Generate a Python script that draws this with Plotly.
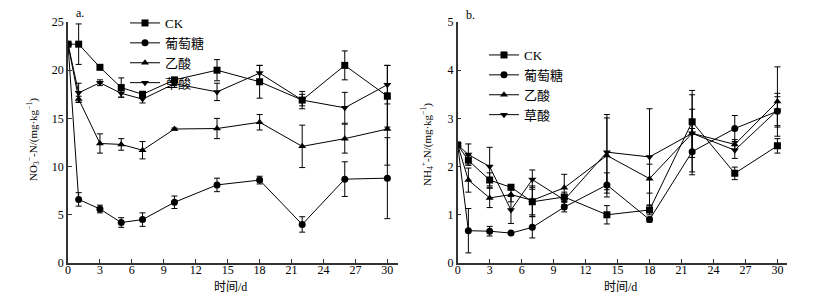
import plotly.graph_objects as go

days = [0, 1, 3, 5, 7, 10, 14, 18, 22, 26, 30]
series_names = ["CK", "葡萄糖", "乙酸", "草酸"]
symbols = ["square", "circle", "triangle-up", "triangle-down"]

# Panel a: NO3- -N
no3_ck = [22.7, 22.7, 20.3, 18.2, 17.5, 19.0, 20.0, 18.8, 16.9, 20.5, 17.3]
no3_ck_err = [0, 2.1, 0.2, 1.0, 0.3, 0.2, 1.1, 1.7, 0.9, 1.5, 3.2]
no3_glu = [22.7, 6.6, 5.6, 4.2, 4.5, 6.3, 8.1, 8.6, 4.0, 8.7, 8.8]
no3_glu_err = [0, 0.7, 0.4, 0.5, 0.7, 0.65, 0.7, 0.4, 0.8, 1.8, 4.2]
no3_ace = [22.7, 17.0, 12.4, 12.3, 11.7, 13.9, 13.95, 14.6, 12.1, 12.9, 13.9]
no3_ace_err = [0, 0.3, 1.0, 0.6, 0.9, 0.1, 1.05, 0.8, 2.2, 1.5, 3.75]
no3_oxa = [22.7, 17.65, 18.7, 17.6, 17.0, 18.6, 17.75, 19.7, 16.9, 16.1, 18.5]
no3_oxa_err = [0, 1.0, 0.3, 0.4, 0.4, 0.2, 0.9, 0.8, 0.6, 1.6, 2.0]

# Panel b: NH4+ -N
nh4_ck = [2.45, 2.13, 1.72, 1.57, 1.27, 1.37, 1.0, 1.1, 2.93, 1.86, 2.43]
nh4_ck_err = [0.05, 0.1, 0.15, 0.05, 0.3, 0.1, 0.19, 0.1, 0.65, 0.13, 0.15]
nh4_glu = [2.45, 0.67, 0.66, 0.62, 0.74, 1.16, 1.62, 0.9, 2.31, 2.79, 3.15]
nh4_glu_err = [0.05, 0.46, 0.1, 0.03, 0.22, 0.1, 0.25, 0.05, 0.48, 0.27, 0.3]
nh4_ace = [2.45, 1.72, 1.35, 1.42, 1.3, 1.56, 2.23, 1.75, 2.69, 2.46, 3.35]
nh4_ace_err = [0.05, 0.25, 0.2, 0.15, 0.3, 0.28, 0.78, 0.3, 0.5, 0.1, 0.72]
nh4_oxa = [2.45, 2.25, 2.0, 1.1, 1.73, 1.31, 2.3, 2.2, 2.69, 2.34, 3.17]
nh4_oxa_err = [0.05, 0.22, 0.4, 0.28, 0.2, 0.1, 0.78, 1.0, 0.8, 0.17, 0.35]

x_ticks = [0, 3, 6, 9, 12, 15, 18, 21, 24, 27, 30]
y_ticks_a = [0, 5, 10, 15, 20, 25]
y_ticks_b = [0, 1, 2, 3, 4, 5]

SERIF = '"Liberation Serif", "Times New Roman", serif'
CJK = '"Liberation Serif", "Noto Sans CJK SC", serif'

fig = go.Figure()

panel_a = [(no3_ck, no3_ck_err), (no3_glu, no3_glu_err), (no3_ace, no3_ace_err), (no3_oxa, no3_oxa_err)]
panel_b = [(nh4_ck, nh4_ck_err), (nh4_glu, nh4_glu_err), (nh4_ace, nh4_ace_err), (nh4_oxa, nh4_oxa_err)]

for i, (vals, errs) in enumerate(panel_a):
    fig.add_trace(go.Scatter(
        x=days, y=vals, name=series_names[i], mode="lines+markers",
        line=dict(color="black", width=1),
        marker=dict(symbol=symbols[i], size=7, color="black"),
        error_y=dict(type="data", array=errs, color="black", thickness=1, width=3),
        xaxis="x", yaxis="y", legend="legend",
    ))

for i, (vals, errs) in enumerate(panel_b):
    fig.add_trace(go.Scatter(
        x=days, y=vals, name=series_names[i], mode="lines+markers",
        line=dict(color="black", width=1),
        marker=dict(symbol=symbols[i], size=7, color="black"),
        error_y=dict(type="data", array=errs, color="black", thickness=1, width=3),
        xaxis="x2", yaxis="y2", legend="legend2",
    ))

# The page is drawn inside an 8px body margin.
W, H = 829, 300
OX, OY = 8, 8


def px(x):
    return (x - OX) / W


def py(y):
    return 1 - (y - OY) / H


y_dom = [py(263), py(22)]

axis_common = dict(
    showline=True, linecolor="#333", linewidth=1.5, mirror=False,
    ticks="inside", ticklen=4, tickwidth=1, tickcolor="#333",
    showgrid=False, zeroline=False, automargin=False,
    tickfont=dict(family=SERIF, size=12, color="black"),
)


def label(text, x, y, font, angle=0):
    return dict(text=text, x=px(x), y=py(y), xref="paper", yref="paper",
                xanchor="center", yanchor="middle", showarrow=False,
                textangle=angle, font=font)


fig.update_layout(
    template="none",
    width=W, height=H,
    margin=dict(l=0, r=0, t=0, b=0, autoexpand=False),
    paper_bgcolor="white", plot_bgcolor="white",
    font=dict(family=CJK, color="black"),
    xaxis=dict(domain=[px(68), px(398)], range=[0, 31], tickvals=x_ticks,
               anchor="y", ticklabelstandoff=-5, **axis_common),
    yaxis=dict(domain=y_dom, range=[0, 25], tickvals=y_ticks_a,
               anchor="x", **axis_common),
    xaxis2=dict(domain=[px(457.7), px(787)], range=[0, 30.9], tickvals=x_ticks,
                anchor="y2", ticklabelstandoff=-5, **axis_common),
    yaxis2=dict(domain=y_dom, range=[0, 5], tickvals=y_ticks_b,
                anchor="x2", **axis_common),
    legend=dict(x=px(125), y=1, xanchor="left", yanchor="top",
                bgcolor="rgba(0,0,0,0)", font=dict(family=CJK, size=13),
                itemwidth=30, tracegroupgap=0, traceorder="normal"),
    legend2=dict(x=px(484), y=py(85), xanchor="left", yanchor="middle",
                 bgcolor="rgba(0,0,0,0)", font=dict(family=CJK, size=13),
                 itemwidth=30, tracegroupgap=0, traceorder="normal"),
    annotations=[
        label("a.", 80, 13, dict(family=SERIF, size=12)),
        label("b.", 470, 15, dict(family=SERIF, size=12)),
        label("时间/d", 230, 287, dict(family=CJK, size=12)),
        label("时间/d", 620, 287, dict(family=CJK, size=12)),
        label("NO<sub>3</sub><sup>−</sup>-N/(mg·kg<sup>−1</sup>)", 33, 140,
              dict(family=SERIF, size=11), angle=-90),
        label("NH<sub>4</sub><sup>+</sup>-N/(mg·kg<sup>−1</sup>)", 427, 145,
              dict(family=SERIF, size=11), angle=-90),
    ],
)

fig.write_html("out.html")
